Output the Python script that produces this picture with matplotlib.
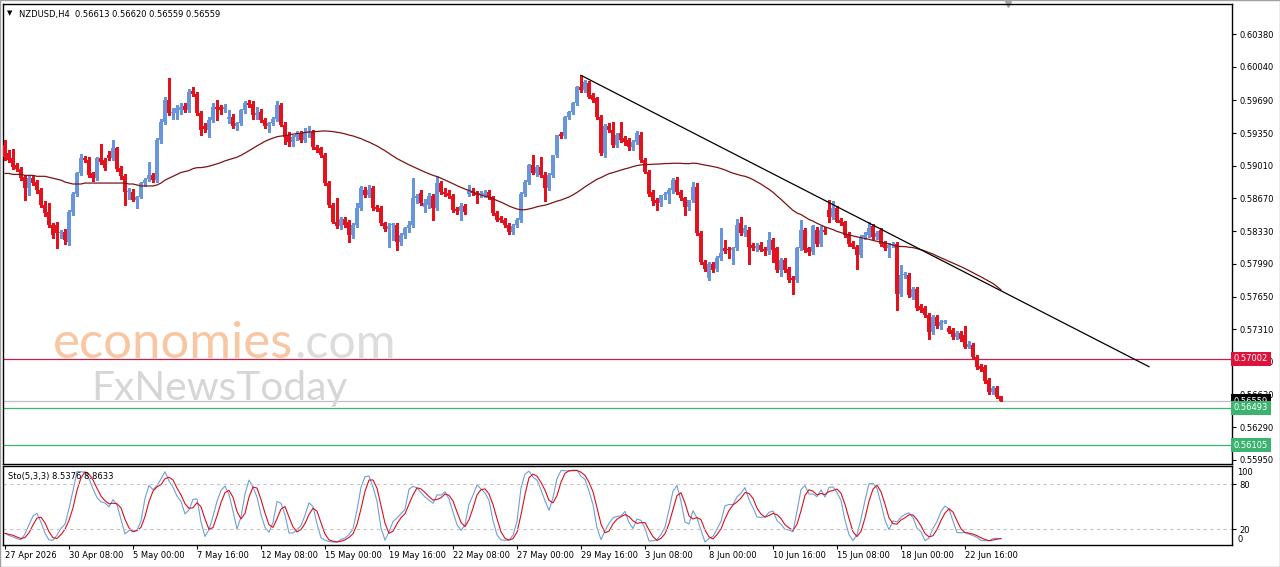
import numpy as np
import pandas as pd
import matplotlib
matplotlib.use("Agg")
import matplotlib.pyplot as plt
from matplotlib.transforms import blended_transform_factory as blend

# NZDUSD H4 candles, prices in units of 0.0001
PIP = 1e-4

opens = [5923, 5914, 5909, 5902, 5898, 5889, 5878, 5888, 5884, 5876,
         5860, 5853, 5839, 5839, 5831, 5832, 5822, 5853, 5872, 5893,
         5909, 5907, 5893, 5888, 5909, 5907, 5912, 5909, 5919, 5899,
         5890, 5874, 5874, 5865, 5869, 5883, 5887, 5891, 5886, 5928,
         5947, 5969, 5956, 5956, 5959, 5963, 5959, 5979, 5976, 5956,
         5942, 5938, 5949, 5962, 5962, 5960, 5950, 5952, 5942, 5945,
         5959, 5966, 5965, 5954, 5957, 5949, 5942, 5945, 5950, 5964,
         5943, 5933, 5926, 5931, 5935, 5928, 5935, 5936, 5921,
         5919, 5912, 5883, 5860, 5843, 5838, 5846, 5843, 5829, 5839,
         5857, 5876, 5871, 5878, 5858, 5857, 5841, 5835, 5839, 5839,
         5822, 5829, 5836, 5839, 5867, 5873, 5858, 5860, 5870, 5857,
         5883, 5874, 5873, 5870, 5856, 5854, 5859, 5872, 5875, 5873,
         5872, 5871, 5874, 5868, 5852, 5847, 5845, 5839, 5832, 5839,
         5845, 5872, 5884,
         5902, 5893, 5900, 5891, 5878, 5891, 5912, 5934, 5932, 5952,
         5957, 5966, 5983, 5980, 5987, 5975, 5971, 5952, 5914, 5942,
         5938, 5923, 5935, 5930, 5928, 5920, 5926, 5933, 5907, 5895,
         5874, 5865, 5862, 5871, 5872, 5876, 5886, 5874, 5867, 5858,
         5865, 5879,
         5831, 5801, 5784, 5799, 5794, 5805, 5815, 5814, 5813, 5815,
         5841, 5831, 5834, 5819, 5815, 5819, 5814, 5812, 5824, 5815,
         5793, 5803, 5794, 5784, 5782, 5815, 5834, 5815, 5811, 5834,
         5820, 5834,
         5855, 5848, 5857, 5845, 5842, 5830, 5821, 5817, 5808, 5827,
         5829, 5838, 5827, 5834, 5821, 5815, 5819, 5820, 5768, 5787,
         5787, 5765, 5773, 5755, 5753, 5746, 5728, 5744, 5734, 5739,
         5732, 5730, 5723, 5727, 5725, 5713, 5715, 5702, 5693, 5692,
         5678, 5666, 5670, 5661.3]

highs = [5928, 5917, 5918, 5904, 5900, 5891, 5891, 5891, 5886, 5878,
         5864, 5862, 5841, 5842, 5834, 5835, 5855, 5874, 5895, 5913,
         5911, 5910, 5895, 5910, 5924, 5909, 5916, 5928, 5921, 5901,
         5892, 5878, 5877, 5870, 5884, 5888, 5905, 5893, 5930, 5950,
         5972, 5992, 5961, 5964, 5966, 5966, 5981, 5983, 5978, 5958,
         5945, 5952, 5966, 5969, 5964, 5965, 5959, 5955, 5947, 5960,
         5968, 5969, 5968, 5962, 5960, 5951, 5947, 5952, 5968, 5966,
         5946, 5936, 5933, 5937, 5937, 5940, 5942, 5938, 5923,
         5921, 5914, 5885, 5862, 5867, 5848, 5848, 5845, 5841, 5862,
         5880, 5879, 5881, 5880, 5860, 5859, 5843, 5841, 5841, 5841,
         5831, 5837, 5844, 5888, 5872, 5876, 5866, 5873, 5872, 5890,
         5885, 5878, 5876, 5872, 5858, 5862, 5861, 5881, 5878, 5875,
         5875, 5876, 5876, 5870, 5854, 5849, 5847, 5841, 5840, 5847,
         5874, 5886, 5903,
         5912, 5902, 5910, 5894, 5893, 5912, 5933, 5936, 5953, 5958,
         5967, 5984, 5995, 5990, 5989, 5977, 5973, 5954, 5944, 5945,
         5947, 5935, 5947, 5932, 5930, 5928, 5937, 5936, 5909, 5897,
         5876, 5867, 5866, 5874, 5878, 5888, 5889, 5876, 5869, 5862,
         5884, 5883,
         5833, 5803, 5801, 5801, 5807, 5836, 5824, 5817, 5817, 5846,
         5848, 5839, 5837, 5821, 5821, 5822, 5817, 5832, 5826, 5817,
         5805, 5805, 5796, 5786, 5817, 5845, 5836, 5817, 5839, 5837,
         5838, 5837,
         5865, 5864, 5859, 5847, 5844, 5832, 5823, 5819, 5829, 5832,
         5843, 5840, 5833, 5836, 5823, 5821, 5822, 5822, 5798, 5790,
         5789, 5775, 5775, 5757, 5755, 5748, 5746, 5746, 5741, 5741,
         5734, 5732, 5729, 5729, 5734, 5719, 5717, 5704, 5695, 5694,
         5680, 5672, 5672, 5662.0]

lows = [5907, 5905, 5898, 5896, 5886, 5865, 5871, 5881, 5873, 5858,
        5849, 5837, 5826, 5815, 5826, 5820, 5819, 5850, 5870, 5891,
        5905, 5889, 5885, 5886, 5903, 5897, 5907, 5907, 5896, 5887,
        5860, 5866, 5864, 5857, 5867, 5880, 5885, 5884, 5884, 5925,
        5944, 5954, 5950, 5950, 5955, 5957, 5957, 5974, 5954, 5933,
        5936, 5931, 5947, 5949, 5955, 5957, 5945, 5940, 5938, 5943,
        5956, 5962, 5950, 5950, 5947, 5940, 5936, 5943, 5948, 5942,
        5924, 5922, 5922, 5928, 5926, 5926, 5931, 5918, 5915,
        5910, 5881, 5858, 5841, 5836, 5835, 5837, 5822, 5826, 5837,
        5855, 5869, 5868, 5855, 5854, 5839, 5833, 5817, 5824, 5813,
        5819, 5826, 5832, 5837, 5862, 5860, 5853, 5857, 5845, 5855,
        5872, 5870, 5867, 5853, 5851, 5845, 5851, 5870, 5871, 5862,
        5868, 5869, 5866, 5850, 5844, 5843, 5837, 5830, 5830, 5837,
        5843, 5870, 5882,
        5892, 5890, 5889, 5864, 5876, 5889, 5910, 5930, 5930, 5950,
        5955, 5964, 5978, 5978, 5971, 5967, 5950, 5912, 5910, 5936,
        5921, 5920, 5926, 5923, 5917, 5917, 5924, 5905, 5893, 5870,
        5860, 5855, 5859, 5866, 5862, 5873, 5872, 5865, 5850, 5855,
        5863, 5829,
        5799, 5792, 5782, 5790, 5792, 5803, 5810, 5805, 5799, 5813,
        5829, 5828, 5799, 5813, 5812, 5812, 5808, 5809, 5801, 5791,
        5786, 5791, 5780, 5768, 5780, 5813, 5811, 5808, 5809, 5818,
        5818, 5830,
        5843, 5846, 5842, 5839, 5827, 5818, 5815, 5794, 5806, 5825,
        5827, 5825, 5825, 5818, 5813, 5806, 5817, 5751, 5766, 5784,
        5765, 5762, 5751, 5749, 5744, 5721, 5726, 5732, 5731, 5737,
        5727, 5721, 5721, 5719, 5711, 5711, 5700, 5690, 5688, 5675,
        5664, 5664, 5659, 5655.9]

closes = [5910, 5907, 5900, 5898, 5888, 5878, 5888, 5883, 5876, 5860,
          5852, 5839, 5829, 5831, 5832, 5824, 5853, 5872, 5893, 5909,
          5907, 5891, 5888, 5909, 5905, 5899, 5909, 5919, 5898, 5890,
          5874, 5875, 5865, 5869, 5883, 5886, 5891, 5886, 5928, 5947,
          5969, 5956, 5957, 5961, 5962, 5959, 5978, 5976, 5956, 5938,
          5939, 5949, 5962, 5960, 5959, 5962, 5952, 5942, 5945, 5959,
          5966, 5964, 5954, 5956, 5949, 5942, 5945, 5950, 5964, 5943,
          5931, 5926, 5931, 5935, 5928, 5936, 5936, 5921, 5917,
          5912, 5883, 5860, 5843, 5838, 5846, 5839, 5829, 5839, 5857,
          5878, 5871, 5876, 5857, 5856, 5841, 5835, 5838, 5840, 5822,
          5829, 5836, 5839, 5867, 5870, 5862, 5862, 5870, 5857, 5883,
          5874, 5872, 5870, 5855, 5854, 5859, 5853, 5876, 5873, 5871,
          5872, 5873, 5868, 5852, 5845, 5845, 5839, 5832, 5838, 5845,
          5872, 5884, 5902,
          5893, 5900, 5891, 5878, 5891, 5912, 5933, 5932, 5952, 5957,
          5966, 5983, 5980, 5988, 5973, 5969, 5952, 5914, 5942, 5938,
          5923, 5933, 5928, 5926, 5920, 5926, 5935, 5907, 5895, 5872,
          5864, 5862, 5871, 5872, 5876, 5886, 5874, 5867, 5858, 5865,
          5879, 5831,
          5801, 5794, 5799, 5793, 5805, 5810, 5812, 5813, 5815, 5839,
          5831, 5836, 5817, 5815, 5818, 5813, 5812, 5824, 5813, 5793,
          5803, 5793, 5782, 5782, 5815, 5834, 5813, 5811, 5838, 5820,
          5834, 5832,
          5848, 5857, 5843, 5841, 5829, 5820, 5817, 5808, 5827, 5829,
          5836, 5827, 5831, 5820, 5815, 5819, 5820, 5768, 5787, 5788,
          5767, 5773, 5753, 5751, 5746, 5728, 5744, 5734, 5739, 5739,
          5728, 5723, 5727, 5721, 5713, 5716, 5702, 5692, 5690, 5677,
          5666, 5670, 5661, 5655.9]

# moving average for the first 49 bars (earlier history not shown)
ma_head = [5893, 5893, 5892, 5892, 5892, 5891, 5891, 5891, 5890, 5890,
           5890, 5889, 5888, 5887, 5886, 5884, 5883, 5882, 5882, 5882,
           5883, 5883, 5883, 5883, 5883, 5883, 5883, 5883, 5883, 5883,
           5883, 5882, 5882, 5881, 5880, 5880, 5880, 5880, 5881, 5883,
           5886, 5888, 5890, 5892, 5894, 5895, 5896, 5898, 5899]
ma_period = 50

trend_bars = [144, 286]
trend_prices = [0.59950, 0.56920]

resistance = 0.57002
supports = [0.56493, 0.56105]
last_price = 0.56559

price_ticks = [0.60380, 0.60040, 0.59690, 0.59350, 0.59010, 0.58670, 0.58330,
               0.57990, 0.57650, 0.57310, 0.56970, 0.56630, 0.56290, 0.55950]

header = "NZDUSD,H4  0.56613 0.56620 0.56559 0.56559"
sto_header = "Sto(5,3,3) 8.5376 8.8633"

# ---------------------------------------------------------------
o = np.array(opens) * PIP
h = np.array(highs) * PIP
l = np.array(lows) * PIP
c = np.array(closes) * PIP
n = len(c)
x = np.arange(n)

times = pd.date_range("2026-04-27 16:00", periods=500, freq="4h")
times = times[times.dayofweek < 5][:n]

ma = pd.Series(c).rolling(ma_period).mean().values
ma[:len(ma_head)] = np.array(ma_head) * PIP

hs, ls, cs = pd.Series(h), pd.Series(l), pd.Series(c)
ll = ls.rolling(5, min_periods=1).min()
hh = hs.rolling(5, min_periods=1).max()
k = 100 * (cs - ll).rolling(3, min_periods=1).sum() / (hh - ll).rolling(3, min_periods=1).sum()
d = k.rolling(3, min_periods=1).mean()

BLUE = "#6896dc"
RED = "#e3121c"
FS = 6
plt.rcParams["font.family"] = ["DejaVu Sans"]

fig = plt.figure(figsize=(12.8, 5.67), dpi=100)
W, H = 1280, 567
ax = fig.add_axes([3 / W, (H - 464) / H, 1229 / W, 460 / H])
ax2 = fig.add_axes([3 / W, (H - 545) / H, 1229 / W, 79 / H], sharex=ax)

up = c >= o
cols = np.where(up, BLUE, RED)
ax.vlines(x, l, h, colors=cols, lw=0.75, zorder=3, antialiased=False)
ax.bar(x, np.maximum(np.abs(c - o), 0.00003), bottom=np.minimum(o, c),
       width=0.76, color=cols, lw=0, zorder=4, antialiased=False)

ax.plot(x, ma, color="#7d1414", lw=0.9, zorder=5)
ax.plot(trend_bars, trend_prices, color="black", lw=0.9, zorder=5)

ax.axhline(resistance, color="#c21f4b", lw=0.9, zorder=2)
for s in supports:
    ax.axhline(s, color="#3cb371", lw=0.9, zorder=2)
ax.axhline(last_price, color="#c0c0c0", lw=0.9, zorder=2)

ax.set_xlim(-0.5, 306.75)
ax.set_ylim(0.559083, 0.606920)
ax.yaxis.tick_right()
ax.set_yticks(price_ticks)
ax.set_yticklabels([f"{t:.5f}" for t in price_ticks])
ax.tick_params(axis="y", labelsize=FS, length=3, width=0.8, pad=2.5, direction="out")
ax.tick_params(axis="x", bottom=False, labelbottom=False)
for sp in ax.spines.values():
    sp.set_linewidth(1)

tr = blend(ax.transAxes, ax.transData)
boxes = [(last_price, "black"), (resistance, "#dc143c")] + [(s, "#3cb371") for s in supports]
for val, fc in boxes:
    ax.text(1.0016, val, f"{val:.5f}", transform=tr, ha="left", va="center",
            fontsize=FS, color="white", clip_on=False, zorder=10,
            bbox=dict(boxstyle="square,pad=0.32", fc=fc, ec="none"))

ax.text(0.0035, 0.986, "\u25bc", transform=ax.transAxes, fontsize=5, va="top", ha="left")
ax.text(0.013, 0.988, header, transform=ax.transAxes, fontsize=FS, va="top", ha="left")
ax.plot([250.75], [1.0], transform=blend(ax.transData, ax.transAxes), marker="v",
        color="#a8a8a8", ms=5, clip_on=False)

# watermark
wm1 = ax.text(50 / 1229, (464 - 358) / 460, "economies", transform=ax.transAxes,
              fontsize=37, family="Lato", color="#f8c6a0", va="baseline", ha="left", zorder=6)
fig.canvas.draw()
bb = wm1.get_window_extent()
wm1.set_fontsize(37 * 240 / bb.width)
fig.canvas.draw()
bb = wm1.get_window_extent()
xr = ax.transAxes.inverted().transform((bb.x1 + 1, bb.y0))[0]
ax.text(xr, (464 - 358) / 460, ".com", transform=ax.transAxes, fontsize=wm1.get_fontsize() * 0.95,
        family="Lato", color="#dcdcdc", va="baseline", ha="left", zorder=6)
wm2 = ax.text(88 / 1229, (464 - 400) / 460, "FxNewsToday", transform=ax.transAxes,
              fontsize=32, family="Lato", color="#d6d6d6", va="baseline", ha="left", zorder=6)
fig.canvas.draw()
bb = wm2.get_window_extent()
wm2.set_fontsize(32 * 257 / bb.width)

# stochastic panel
ax2.plot(x, k, color="#6f9fd8", lw=0.8)
ax2.plot(x, d, color="#d9101c", lw=0.8)
for lv in (80, 20):
    ax2.axhline(lv, color="#c4c4c4", lw=0.8, ls=(0, (3, 3)))
ax2.set_ylim(-1.3, 104)
ax2.yaxis.tick_right()
ax2.set_yticks([20, 80])
ax2.set_yticklabels(["20", "80"])
ax2.tick_params(axis="y", labelsize=FS, length=3, width=0.8, pad=2)
tr2 = blend(ax2.transAxes, ax2.transData)
ax2.text(1.0045, 101, "100", transform=tr2, fontsize=FS, va="top", ha="left", clip_on=False)
ax2.text(1.0045, 0.5, "0", transform=tr2, fontsize=FS, va="bottom", ha="left", clip_on=False)
ax2.text(0.004, 0.93, sto_header, transform=ax2.transAxes, fontsize=FS, va="top", ha="left")

tick_idx = list(range(0, n, 16))
tick_lbl = []
for i in tick_idx:
    t = times[i]
    if i == 0:
        tick_lbl.append(f"{t.day} {t:%b %Y}")
    else:
        tick_lbl.append(f"{t.day} {t:%b %H:%M}")
ax2.set_xticks(tick_idx)
ax2.set_xticklabels(tick_lbl, ha="left")
ax2.tick_params(axis="x", labelsize=FS, length=3, width=0.8, pad=1)
for sp in ax2.spines.values():
    sp.set_linewidth(1)

fig.patches.append(plt.Rectangle((0, 0), 1, 1, transform=fig.transFigure, fill=False,
                                 ec="#a0a0a0", lw=1))

fig.savefig("out.png", dpi=100)
